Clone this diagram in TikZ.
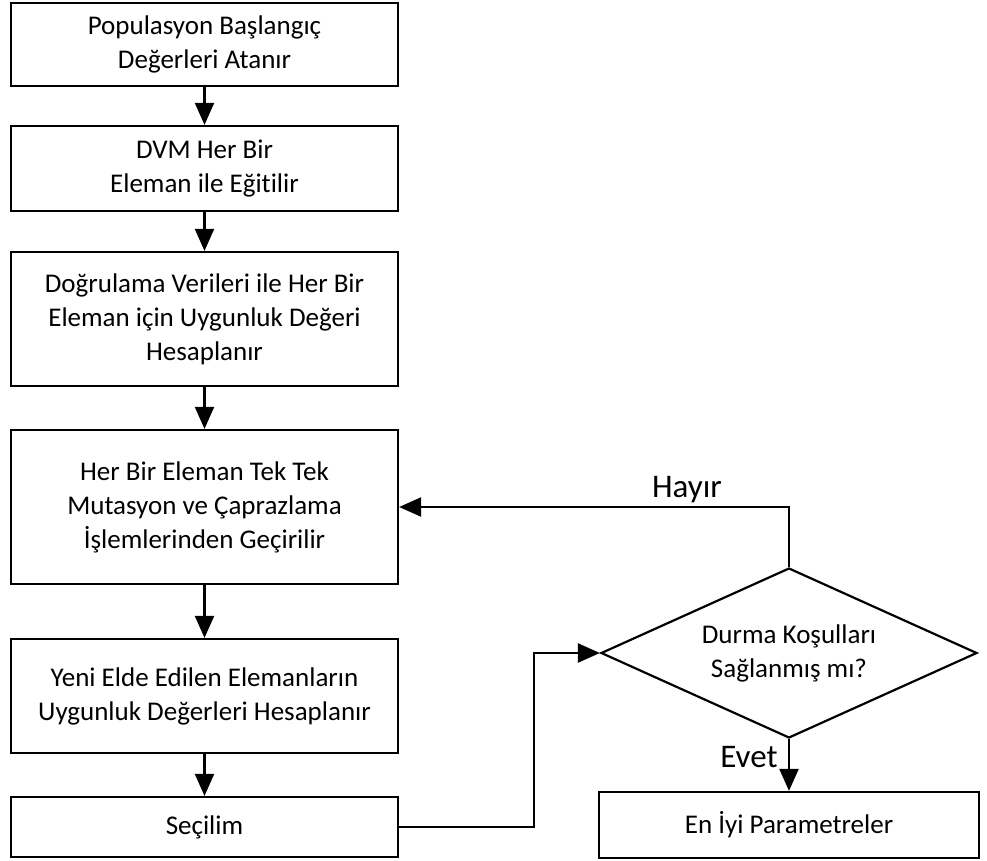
\documentclass[tikz,border=0pt]{standalone}
\usepackage{fontspec}
\setmainfont{Carlito}[Ligatures=NoCommon]
\usetikzlibrary{shapes.geometric,arrows.meta}
\begin{document}
\begin{tikzpicture}[x=1pt,y=-1pt,
  every node/.style={font=\fontsize{27}{34}\selectfont},
  procbox/.style={draw,line width=2.2pt,rectangle,align=center,inner sep=0pt,minimum width=387pt},
  decbox/.style={draw,line width=2.2pt,diamond,align=center,inner sep=0pt,shape aspect=2.2,minimum width=376pt,minimum height=170pt},
  arr/.style={line width=2.2pt,-{Triangle[length=22pt,width=19pt]}},
  lbl/.style={font=\fontsize{33}{36}\selectfont}]
\useasboundingbox (0,0) rectangle (987,861);

\node[procbox,minimum height=83pt]  (b1) at (204.5,44.5) {Populasyon Başlangıç\\Değerleri Atanır};
\node[procbox,minimum height=85pt]  (b2) at (204.5,168.5) {DVM Her Bir\\Eleman ile Eğitilir};
\node[procbox,minimum height=134pt] (b3) at (204.5,319) {Doğrulama Verileri ile Her Bir\\Eleman için Uygunluk Değeri\\Hesaplanır};
\node[procbox,minimum height=154pt] (b4) at (204.5,507) {Her Bir Eleman Tek Tek\\Mutasyon ve Çaprazlama\\İşlemlerinden Geçirilir};
\node[procbox,minimum height=114pt] (b5) at (204.5,696) {Yeni Elde Edilen Elemanların\\Uygunluk Değerleri Hesaplanır};
\node[procbox,minimum height=60pt]  (b6) at (204.5,827) {Seçilim};

\node[decbox] (dec) at (789,653) {Durma Koşulları\\Sağlanmış mı?};
\node[procbox,minimum width=380pt,minimum height=66pt] (res) at (789,825) {En İyi Parametreler};

\draw[arr] (b1) -- (b2);
\draw[arr] (b2) -- (b3);
\draw[arr] (b3) -- (b4);
\draw[arr] (b4) -- (b5);
\draw[arr] (b5) -- (b6);
\draw[arr] (b6.east) -- ++(135,0) |- (dec.west);
\draw[arr] (dec.north) |- (b4.east);
\draw[arr] (dec.south) -- (res.north);

\node[lbl] (no)  at (687,490) {Hayır};
\node[lbl] (yes) at (749,757) {Evet};
\end{tikzpicture}
\end{document}
